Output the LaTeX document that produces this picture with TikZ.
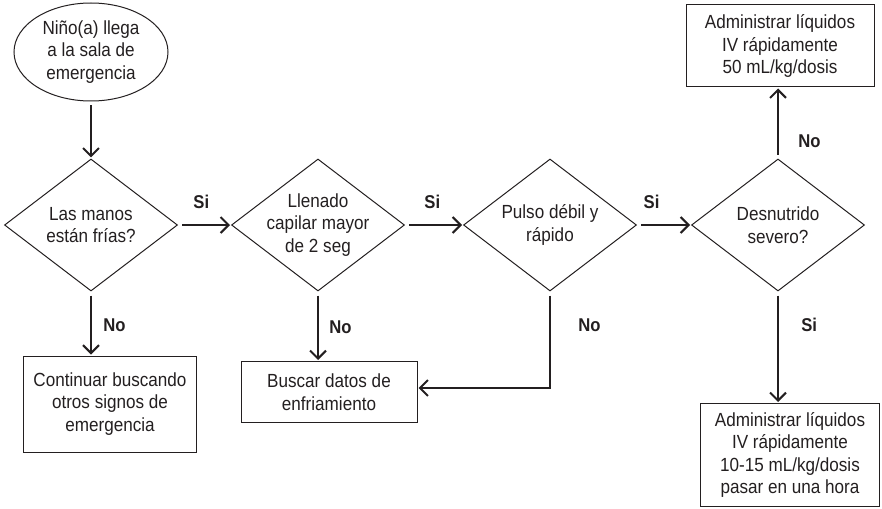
\documentclass[tikz,border=0pt]{standalone}
\usepackage{fontspec}
\setmainfont{Liberation Sans}[FakeStretch=0.9]
\usetikzlibrary{arrows.meta,shapes.geometric}
\definecolor{ink}{HTML}{231F20}
\tikzset{
    decision/.style={diamond,draw=ink,line width=1pt,inner sep=0pt,
        minimum width=173pt,minimum height=132pt},   % text goes in as a centre label
    action/.style={rectangle,draw=ink,line width=1pt,inner sep=0pt},
    flow/.style={draw=ink,line width=2pt,
        -{Straight Barb[length=8pt,width=16pt]},shorten <=4pt,shorten >=1pt},
    answer/.style={font=\fontsize{18.5}{21}\selectfont\bfseries,text=ink}
}
\begin{document}
\begin{tikzpicture}[x=1pt,y=-1pt,font=\fontsize{19}{22.5}\selectfont,text=ink]
\useasboundingbox (0,0) rectangle (882,508);
\begin{scope}[every node/.style={align=center}]
    \node[ellipse,draw=ink,line width=1pt,inner sep=0pt,
          minimum width=154pt,minimum height=98pt] (arrive) at (91,52) {Niño(a) llega\\a la sala de\\emergencia};
    \node[decision,label={[align=center]center:Las manos\\están frías?}] (hands) at (91,225) {};
    \node[decision,label={[align=center]center:Llenado\\capilar mayor\\de 2 seg}] (refill) at (318,225) {};
    \node[decision,label={[align=center]center:Pulso débil y\\rápido}] (pulse) at (550,225) {};
    \node[decision,label={[align=center]center:Desnutrido\\severo?}] (severe) at (778,225) {};
    \node[action,minimum width=173pt,minimum height=96pt] (keep) at (110,404) {Continuar buscando\\otros signos de\\emergencia};
    \node[action,minimum width=176pt,minimum height=61pt] (cool) at (329,392) {Buscar datos de\\enfriamiento};
    \node[action,minimum width=188pt,minimum height=82pt] (fast) at (780,46) {Administrar líquidos\\IV rápidamente\\50 mL/kg/dosis};
    \node[action,minimum width=179pt,minimum height=103pt] (slow) at (790,455) {Administrar líquidos\\IV rápidamente\\10-15 mL/kg/dosis\\pasar en una hora};
\end{scope}
\begin{scope}[every node/.style={answer}]
    \draw [flow] (arrive) -- (hands);
    \draw [flow] (hands) -- node[pos=0.44,above=12pt] {Si} (refill);
    \draw [flow] (refill) -- node[pos=0.47,above=12pt] {Si} (pulse);
    \draw [flow] (pulse) -- node[pos=0.27,above=12pt] {Si} (severe);
    \draw [flow] (hands.south) -- node[pos=0.52,right=8pt] {No} (hands.south |- keep.north);
    \draw [flow] (refill.south) -- node[pos=0.52,right=7pt] {No} (refill.south |- cool.north);
    \draw [flow] (pulse.south) |- node[pos=0.175,right=24pt] {No} ([yshift=4pt]cool.east);
    \draw [flow] (severe.north) -- node[pos=0.24,right=16pt] {No} (severe.north |- fast.south);
    \draw [flow] (severe.south) -- node[pos=0.3,right=19pt] {Si} (severe.south |- slow.north);
\end{scope}
\end{tikzpicture}
\end{document}
